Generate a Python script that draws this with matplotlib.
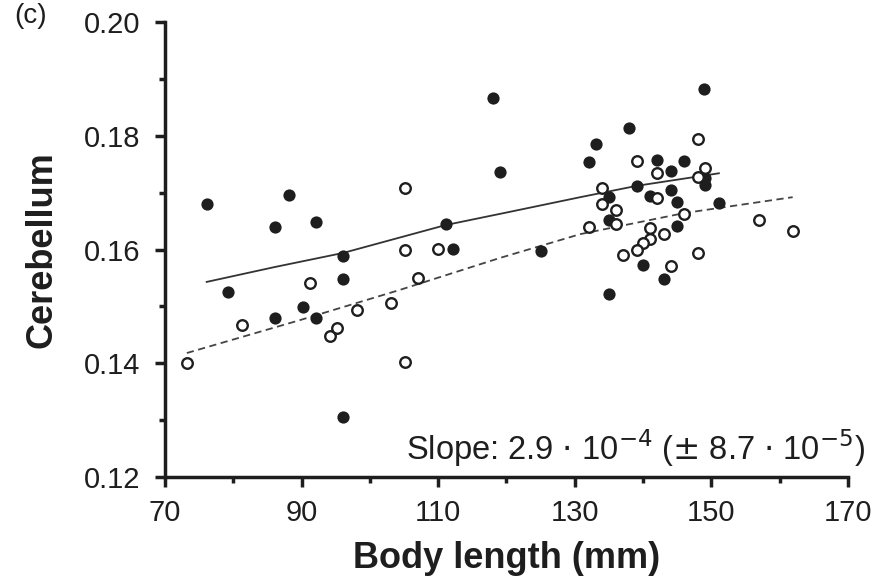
import numpy as np
import matplotlib.pyplot as plt

plt.rcParams['font.family'] = ['Liberation Sans', 'DejaVu Sans']

# filled circles
filled_x = [76.1, 79.2, 86.1, 88.2, 86.1, 92.1, 96.1, 96.1, 90.2, 92.1, 96.1,
            111.1, 112.2, 118.0, 119.0, 125.1,
            148.9, 137.9, 133.1, 132.1, 142.0, 146.0, 144.1, 149.1, 149.1,
            139.1, 135.0, 141.0, 144.1, 145.0, 151.1, 135.0, 145.0, 140.0,
            143.1, 135.0]
filled_y = [0.1680, 0.1525, 0.1640, 0.1696, 0.1480, 0.1648, 0.1589, 0.1548, 0.1499, 0.1480, 0.1305,
            0.1645, 0.1601, 0.1866, 0.1736, 0.1597,
            0.1882, 0.1814, 0.1786, 0.1754, 0.1757, 0.1756, 0.1738, 0.1726, 0.1713,
            0.1712, 0.1692, 0.1694, 0.1705, 0.1684, 0.1682, 0.1652, 0.1641, 0.1573,
            0.1548, 0.1522]

# open circles
open_x = [73.2, 81.3, 91.2, 94.2, 95.2, 98.1, 103.1, 105.1, 105.1, 105.1, 107.0, 110.0,
          148.0, 139.1, 142.0, 149.1, 148.0, 134.0, 142.0, 134.0, 136.0, 146.0, 136.0,
          132.1, 157.0, 161.9, 141.0, 143.1, 141.0, 140.0, 139.1, 137.1, 148.0, 144.1]
open_y = [0.1400, 0.1467, 0.1541, 0.1448, 0.1462, 0.1494, 0.1506, 0.1402, 0.1708, 0.1599, 0.1550, 0.1601,
          0.1794, 0.1756, 0.1734, 0.1743, 0.1727, 0.1708, 0.1691, 0.1680, 0.1669, 0.1662, 0.1645,
          0.1640, 0.1652, 0.1633, 0.1638, 0.1627, 0.1618, 0.1611, 0.1599, 0.1590, 0.1594, 0.1571]

# fitted curves
solid_x = [76.1, 86.0, 96.1, 111.1, 120.0, 130.8, 139.1, 151.1]
solid_y = [0.1543, 0.1569, 0.1594, 0.1643, 0.1665, 0.1692, 0.1712, 0.1734]
dash_x = [73.2, 89.8, 104.4, 119.0, 130.8, 146.0, 161.9]
dash_y = [0.1418, 0.1476, 0.1529, 0.1585, 0.1627, 0.1664, 0.1692]

ink = '#1e1e1e'

fig = plt.figure(figsize=(8.87, 5.85), dpi=100)
ax = fig.add_axes([0.186, 0.1846, 0.770, 0.7778])

ax.plot(solid_x, solid_y, color='#333333', lw=1.3)
ax.plot(dash_x, dash_y, color='#444444', lw=1.3, ls=(0, (4, 2.5)))

ax.plot(filled_x, filled_y, 'o', color=ink, ms=8.8, mew=0, clip_on=False)
ax.plot(open_x, open_y, 'o', mfc='white', mec=ink, ms=7.6, mew=1.7, clip_on=False)

ax.set_xlim(70, 170)
ax.set_ylim(0.12, 0.20)
ax.set_xticks([70, 90, 110, 130, 150, 170])
ax.set_xticks([80, 100, 120, 140, 160], minor=True)
ax.set_yticks([0.12, 0.14, 0.16, 0.18, 0.20])
ax.set_yticklabels(['0.12', '0.14', '0.16', '0.18', '0.20'])
ax.set_yticks([0.13, 0.15, 0.17, 0.19], minor=True)

for s in ['top', 'right']:
    ax.spines[s].set_visible(False)
for s in ['left', 'bottom']:
    ax.spines[s].set_linewidth(2.5)
    ax.spines[s].set_color(ink)

ax.tick_params(which='major', length=7, width=2.5, color=ink, labelsize=21,
               labelcolor=ink)
ax.tick_params(axis='x', which='major', pad=9)
ax.tick_params(axis='y', which='major', pad=11)
ax.tick_params(which='minor', length=4, width=2.5, color=ink)

ax.set_xlabel('Body length (mm)', fontsize=26, fontweight='bold', color=ink, labelpad=10)
ax.set_ylabel('Cerebellum', fontsize=26, fontweight='bold', color=ink, labelpad=17)

ax.text(1.025, 0.037, r'Slope: 2.9 $\cdot$ 10$^{-4}$ ($\pm$ 8.7 $\cdot$ 10$^{-5}$)',
        transform=ax.transAxes, ha='right', va='baseline', fontsize=23.5, color=ink)

fig.text(0.035, 0.995, '(c)', fontsize=20, color=ink, ha='center', va='top')

fig.savefig('out.png', dpi=100)
